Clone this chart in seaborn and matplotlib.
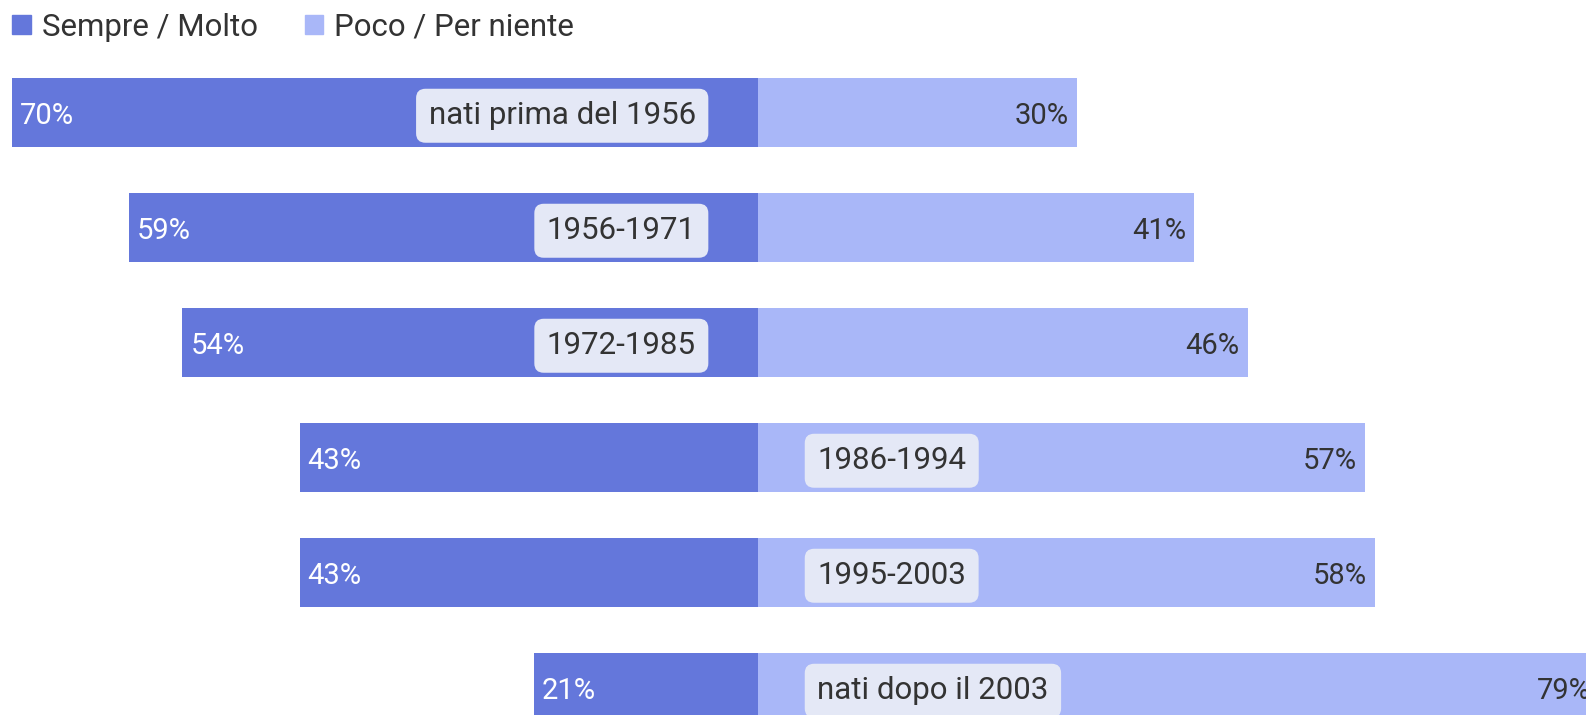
import matplotlib
matplotlib.use("Agg")
import matplotlib.pyplot as plt
import seaborn as sns
from matplotlib.patches import Patch

# dati
generazioni = ["nati prima del 1956", "1956-1971", "1972-1985",
               "1986-1994", "1995-2003", "nati dopo il 2003"]
sempre_molto = [70, 59, 54, 43, 43, 21]
poco_niente = [30, 41, 46, 57, 58, 79]
serie = ["Sempre / Molto", "Poco / Per niente"]

col_scuro = "#6477DB"
col_chiaro = "#A9B7F8"
col_testo = "#333333"

sns.set_theme(style="white")
plt.rcParams["font.family"] = ["Roboto", "DejaVu Sans"]

fig = plt.figure(figsize=(15.86, 7.15), dpi=100)
ax = fig.add_axes([0, 0, 1, 1])

neg = [-v for v in sempre_molto]
sns.barplot(x=neg, y=generazioni, order=generazioni, color=col_scuro,
            saturation=1, width=0.6, orient="h", linewidth=0, ax=ax)
sns.barplot(x=poco_niente, y=generazioni, order=generazioni, color=col_chiaro,
            saturation=1, width=0.6, orient="h", linewidth=0, ax=ax)

px = 10.65  # pixel per punto percentuale
ax.set_xlim(-757.6 / px, (1586 - 757.6) / px)
ax.set_ylim((715 - 112.3) / 115, -112.3 / 115)
ax.axis("off")

dy = 0.03
for i, (g, l, r) in enumerate(zip(generazioni, sempre_molto, poco_niente)):
    ax.text(-l + 0.75, i + dy, f"{l}%", ha="left", va="center", color="white", fontsize=21)
    ax.text(r - 0.75, i + dy, f"{r}%", ha="right", va="center", color=col_testo, fontsize=21)
    box = dict(boxstyle="round,pad=0.4,rounding_size=0.3", fc="#E4E8F6", ec="none")
    if l >= r:
        ax.text(-5.8, i + dy, g, ha="right", va="center", color=col_testo, fontsize=22.5, bbox=box)
    else:
        ax.text(5.6, i + dy, g, ha="left", va="center", color=col_testo, fontsize=22.5, bbox=box)

handles = [Patch(color=col_scuro), Patch(color=col_chiaro)]
fig.legend(handles, serie, loc="center left", bbox_to_anchor=(12 / 1586, 1 - 27 / 715),
           ncol=2, frameon=False, fontsize=22.5, handlelength=0.6, handleheight=0.6,
           handletextpad=0.35, columnspacing=1.5, borderpad=0, borderaxespad=0,
           labelcolor=col_testo)

plt.savefig("out.png", dpi=100)
